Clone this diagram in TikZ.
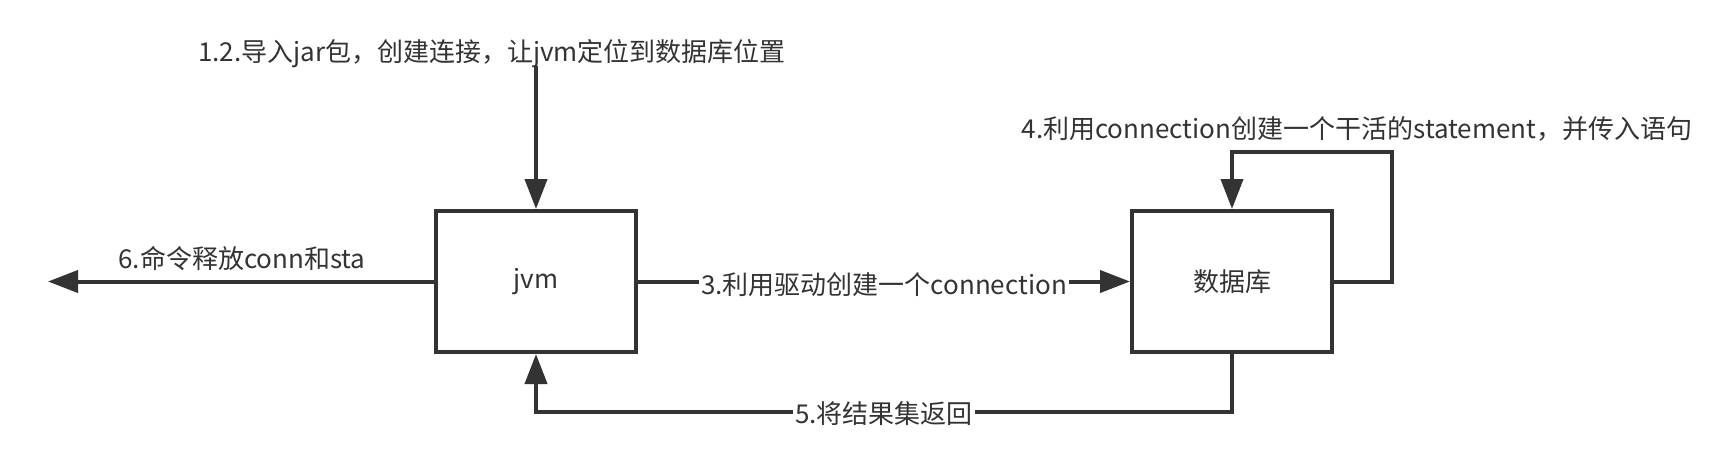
\documentclass[tikz,border=0pt]{standalone}
\usepackage{fontspec}
\setmainfont{Noto Sans CJK SC}
\usetikzlibrary{arrows.meta}
\definecolor{ink}{HTML}{333333}
\begin{document}
\begin{tikzpicture}[x=0.5pt,y=-0.5pt,
  box/.style={draw=ink,line width=2pt,minimum width=100pt,minimum height=70.5pt,inner sep=0pt,text=ink,font=\fontsize{13}{15}\selectfont},
  conn/.style={draw=ink,line width=2pt,-{Triangle[length=15pt,width=11pt]}},
  lbl/.style={text=ink,inner sep=1pt,font=\fontsize{13}{15}\selectfont},
  mid/.style={lbl,fill=white}]
\useasboundingbox (0,0) rectangle (1724,462);
\node[box] (jvm) at (536,281.5) {jvm};
\node[box] (db) at (1232,281.5) {数据库};
% 1
\node[lbl] (l1) at (492,54) {1.2.导入jar包，创建连接，让jvm定位到数据库位置};
\coordinate (s1) at (536,66);
\draw[conn] (s1) -- (jvm.north);
% 6
\coordinate (e6) at (48,281.5);
\draw[conn] (jvm.west) -- (e6);
\node[lbl] (l6) at (242,259) {6.命令释放conn和sta};
% 3
\draw[conn] (jvm.east) -- node[mid,yshift=-1.5pt] (l3) {3.利用驱动创建一个connection} (db.west);
% 4
\coordinate (c4a) at (1392,281.5);
\coordinate (c4b) at (1392,152);
\coordinate (c4c) at (1232,152);
\draw[conn] (db.east) -- (c4a) -- (c4b) -- (c4c) -- (db.north);
\node[lbl] (l4) at (1357,129) {4.利用connection创建一个干活的statement，并传入语句};
% 5
\coordinate (c5a) at (1232,412);
\coordinate (c5b) at (536,412);
\draw[conn] (db.south) -- (c5a) -- node[mid,yshift=-1pt] (l5) {5.将结果集返回} (c5b) -- (jvm.south);
\end{tikzpicture}
\end{document}
